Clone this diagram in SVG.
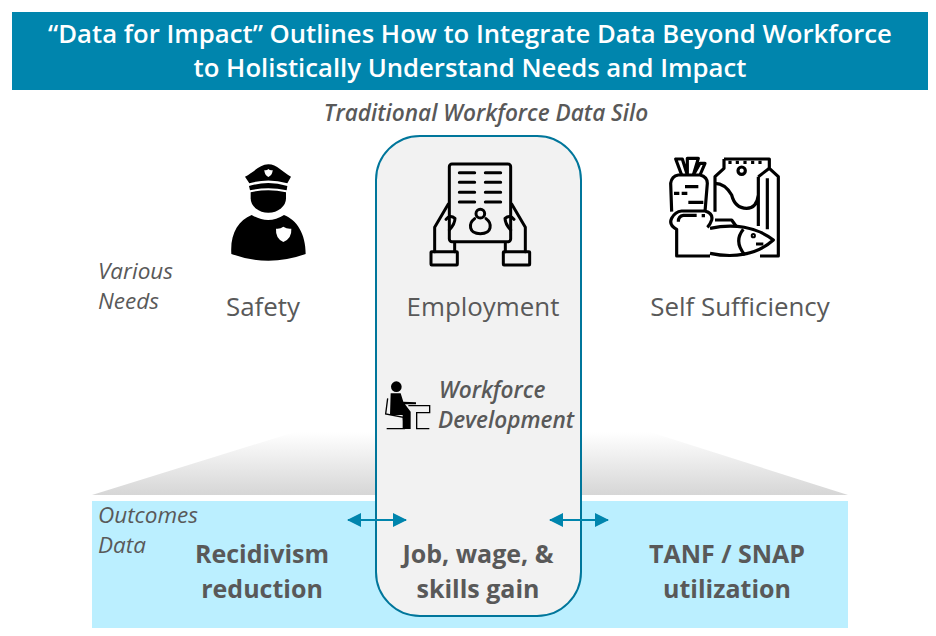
<svg xmlns="http://www.w3.org/2000/svg" width="936" height="636" viewBox="0 0 936 636">
<defs>
<linearGradient id="fade" x1="0" y1="0" x2="0" y2="1"><stop offset="0" stop-color="#ffffff"/><stop offset="1" stop-color="#d6d6d6"/></linearGradient>
<marker id="ah" viewBox="0 0 14 14" refX="13" refY="7" markerWidth="14" markerHeight="14" markerUnits="userSpaceOnUse" orient="auto-start-reverse"><path d="M0 0L14 7L0 14Z" fill="#0085ad"/></marker>
</defs>
<style>
text{font-family:"Open Sans","Noto Sans","Liberation Sans",sans-serif;fill:#595959}
.title{font-size:25.7px;font-weight:600;fill:#fff;text-anchor:middle}
.it{font-size:22.5px;font-style:italic}
.sub{font-size:22.6px;font-weight:600;font-style:italic}
.need{font-size:25.9px;text-anchor:middle}
.out{font-size:25px;font-weight:700;text-anchor:middle}
.ln{fill:none;stroke:#000;stroke-width:9;stroke-linejoin:round;stroke-linecap:round}
.conn{stroke:#0085ad;stroke-width:2;fill:none;marker-start:url(#ah);marker-end:url(#ah)}
</style>
<rect width="936" height="636" fill="#fff"/>
<g id="header"><rect x="12" y="12" width="916" height="78" fill="#0085ad"/>
<text class="title" x="470" y="43">“Data for Impact” Outlines How to Integrate Data Beyond Workforce</text>
<text class="title" x="470" y="77">to Holistically Understand Needs and Impact</text></g>
<text class="sub" x="486" y="121" text-anchor="middle">Traditional Workforce Data Silo</text>
<path id="funnel" d="M92 495L295 432H650L848 495Z" fill="url(#fade)"/>
<rect id="outcomes-band" x="92" y="501" width="756" height="127" fill="#bbefff"/>
<rect id="silo" x="376" y="136" width="205" height="480" rx="44" fill="#f2f2f2" stroke="#00769b" stroke-width="2"/>

<g id="safety">
<g transform="translate(200 130) scale(.33333)">
<path d="M135 140C160 128 180 103 205 103C230 103 250 128 273 140L262 160Q205 143 148 160Z" fill="#000"/>
<path d="M147 168Q205 150 262 168L260 181Q205 168 150 181Z" fill="#000"/>
<path d="M152 187Q205 174 258 187V205A53 43 0 0 1 152 205Z" fill="#000"/>
<path d="M155 255Q205 285 252 255C290 270 317 310 317 372Q205 412 94 372C90 310 115 272 155 255Z" fill="#000"/>
<path d="M228 296Q240 298 250 290Q262 298 274 296Q276 325 250 336Q226 325 228 296Z" fill="#fff"/>
<path d="M193 120Q200 122 205 117Q211 122 218 120Q218 135 205 141Q193 135 193 120Z" fill="#fff"/>
</g>
<text class="need" x="263" y="316">Safety</text></g>

<g id="employment">
<g transform="translate(200 130) scale(.33333)">
<rect class="ln" x="748" y="102" width="184" height="233" rx="8"/>
<path class="ln" d="M778 128H824M856 128H902M778 157H824M856 157H902M778 187H824M856 187H902M778 216H824M856 216H902" stroke-width="8"/>
<circle class="ln" cx="841" cy="251" r="13" stroke-width="8"/>
<path class="ln" d="M824 266C805 280 805 311 841 311C877 311 877 280 858 266" stroke-width="8"/>
<path class="ln" d="M745 222L704 292V365M764 340V365M738 268Q750 252 765 265Q765 282 748 300"/>
<path class="ln" d="M935 222L976 292V365M916 340V365M942 268Q930 252 915 265Q915 282 932 300"/>
<rect class="ln" x="693" y="365" width="79" height="40" rx="2"/>
<rect class="ln" x="910" y="365" width="79" height="40" rx="2"/>
</g>
<text class="need" x="483" y="316">Employment</text></g>

<g id="self-sufficiency">
<g transform="translate(650 140) scale(.33333)" fill="none" stroke="#000" stroke-width="9.5" stroke-linejoin="round">
<path d="M95 105L77 57H97L112 105M112 105V55H145L130 105M130 105L150 70H165L150 105"/>
<path d="M65 215L62 130Q65 108 85 105H150Q172 110 172 130L165 215"/>
<path d="M72 160H88M95 160H112M105 140H145M115 187H160"/>
<path d="M65 235Q75 215 95 213H165Q190 220 185 240Q180 255 172 262M65 235Q55 255 80 268V348H180"/>
<path d="M85 245Q85 228 100 226H140M155 227H165"/>
<path d="M222 57H358V85L385 110V348H330M222 57V85L195 110V215"/>
<path d="M240 62V72M262 62V72M285 62V72M308 62V72M330 62V72"/>
<circle cx="275" cy="92" r="11"/>
<path d="M195 130Q225 130 245 165Q255 205 290 205Q320 205 325 165M325 110V258M325 110L358 85M352 115V268"/>
<path d="M195 240H245L258 258"/>
<path d="M180 265C250 250 320 260 370 300C320 345 250 355 180 340"/>
<path d="M280 268Q250 305 285 345M318 312H340"/>
<circle cx="310" cy="287" r="3"/>
</g>
<text class="need" x="740" y="316">Self Sufficiency</text></g>

<g id="various-needs"><text class="it" x="98" y="279">Various</text><text class="it" x="98" y="309">Needs</text></g>

<g id="workforce-development">
<g transform="translate(370 370) scale(.33333)" fill="none" stroke="#000">
<circle cx="79" cy="50" r="16" fill="#000" stroke="none"/>
<path d="M62 70H92L100 95L138 97V103H105L122 125V177H98V135H60Z" fill="#000" stroke="none"/>
<path d="M53 85L47 132L100 142L103 176H50" stroke-width="4"/>
<path d="M115 107H179V128H140V176H178" stroke-width="4"/>
</g>
<text class="sub" x="439" y="398">Workforce</text>
<text class="sub" x="438" y="428">Development</text></g>

<g id="outcomes-data"><text class="it" x="98" y="523">Outcomes</text><text class="it" x="98" y="553">Data</text></g>
<g id="recidivism"><text class="out" x="262" y="563">Recidivism</text><text class="out" x="262" y="598">reduction</text></g>
<g id="job-wage"><text class="out" x="478" y="563">Job, wage, &amp;</text><text class="out" x="478" y="598">skills gain</text></g>
<g id="tanf-snap"><text class="out" x="727" y="563">TANF / SNAP</text><text class="out" x="727" y="598">utilization</text></g>

<g id="connectors">
<line class="conn" x1="348" y1="520" x2="406" y2="520"/>
<line class="conn" x1="550" y1="520" x2="608" y2="520"/>
</g>
</svg>
